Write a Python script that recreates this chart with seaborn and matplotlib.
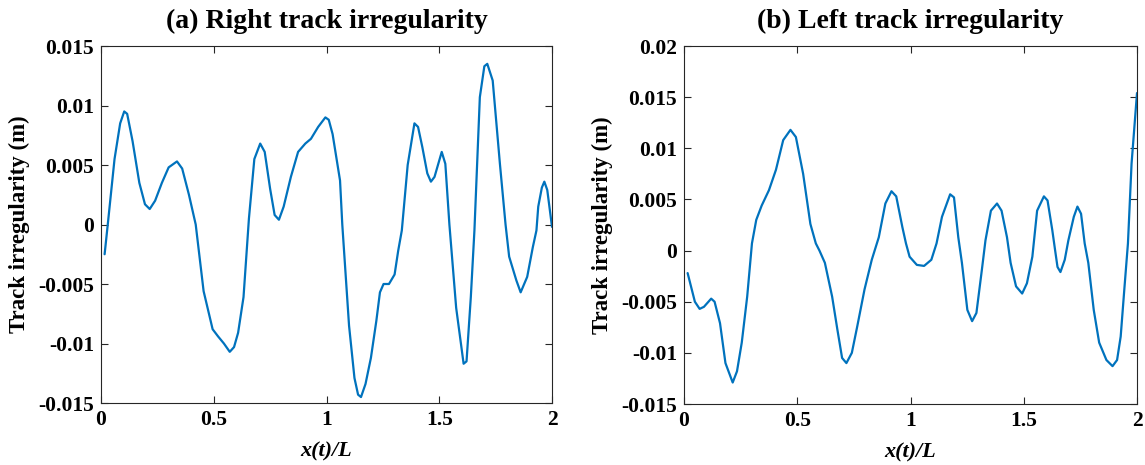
import numpy as np
import pandas as pd
import matplotlib
matplotlib.use("Agg")
import matplotlib.pyplot as plt
import seaborn as sns

# Right track irregularity profile (m) versus normalised position x(t)/L
right_x = [0.016, 0.03, 0.06, 0.085, 0.103, 0.116, 0.14, 0.17, 0.195, 0.216, 0.24, 0.27,
           0.30, 0.337, 0.36, 0.39, 0.42, 0.455, 0.495, 0.519, 0.545, 0.571, 0.59, 0.608,
           0.632, 0.656, 0.68, 0.706, 0.726, 0.75, 0.77, 0.789, 0.81, 0.842, 0.874, 0.906,
           0.931, 0.963, 0.995, 1.01, 1.027, 1.06, 1.07, 1.10, 1.124, 1.14, 1.153, 1.173,
           1.197, 1.221, 1.237, 1.253, 1.277, 1.302, 1.318, 1.334, 1.36, 1.39, 1.406, 1.425,
           1.447, 1.463, 1.479, 1.511, 1.527, 1.545, 1.575, 1.608, 1.621, 1.64, 1.656, 1.68,
           1.70, 1.713, 1.737, 1.769, 1.794, 1.81, 1.842, 1.861, 1.89, 1.915, 1.931, 1.939,
           1.955, 1.966, 1.979, 2.0]
right_y = [-0.0025, 0.0, 0.0055, 0.0085, 0.0095, 0.0093, 0.0070, 0.0035, 0.0017, 0.0013, 0.0020, 0.0035,
           0.0048, 0.0053, 0.0047, 0.0025, 0.0, -0.0056, -0.0088, -0.0094, -0.0100, -0.0107, -0.0103, -0.0091,
           -0.0061, 0.0005, 0.0055, 0.0068, 0.0061, 0.0030, 0.0008, 0.0004, 0.0015, 0.0040, 0.0061, 0.0068,
           0.0072, 0.0082, 0.0090, 0.0088, 0.0076, 0.0037, 0.0, -0.0085, -0.0129, -0.0143, -0.0145, -0.0134,
           -0.0112, -0.0081, -0.0057, -0.0050, -0.0050, -0.0042, -0.0022, -0.0005, 0.0050, 0.0085, 0.0082, 0.0065,
           0.0043, 0.0036, 0.0040, 0.0061, 0.0051, 0.0, -0.0070, -0.0117, -0.0115, -0.0061, -0.0005, 0.0107,
           0.0133, 0.0135, 0.0121, 0.0051, 0.0, -0.0027, -0.0047, -0.0057, -0.0044, -0.0019, -0.0005, 0.0015,
           0.0031, 0.0036, 0.0029, -0.0002]

# Left track irregularity profile (m) versus normalised position x(t)/L
left_x = [0.016, 0.048, 0.069, 0.088, 0.12, 0.135, 0.159, 0.183, 0.215, 0.234, 0.255, 0.279,
          0.30, 0.319, 0.343, 0.375, 0.406, 0.438, 0.47, 0.494, 0.526, 0.558, 0.582, 0.598,
          0.622, 0.654, 0.677, 0.698, 0.717, 0.741, 0.765, 0.797, 0.829, 0.86, 0.889, 0.916,
          0.937, 0.964, 0.98, 0.996, 1.028, 1.06, 1.092, 1.115, 1.139, 1.175, 1.192, 1.211,
          1.227, 1.251, 1.272, 1.291, 1.315, 1.331, 1.355, 1.382, 1.402, 1.426, 1.442, 1.466,
          1.493, 1.514, 1.538, 1.559, 1.589, 1.605, 1.626, 1.638, 1.649, 1.662, 1.681, 1.697,
          1.721, 1.737, 1.753, 1.769, 1.785, 1.809, 1.833, 1.865, 1.892, 1.912, 1.928, 1.944,
          1.96, 1.976, 2.0]
left_y = [-0.0022, -0.0050, -0.0057, -0.0055, -0.0047, -0.0050, -0.0071, -0.0110, -0.0129, -0.0118, -0.0090, -0.0045,
          0.0007, 0.0030, 0.0044, 0.0059, 0.0079, 0.0108, 0.0118, 0.0111, 0.0075, 0.0026, 0.0007, 0.0000,
          -0.0012, -0.0045, -0.0077, -0.0105, -0.0110, -0.0100, -0.0074, -0.0038, -0.0009, 0.0013, 0.0046, 0.0058,
          0.0053, 0.0023, 0.0007, -0.0006, -0.0014, -0.0015, -0.0009, 0.0007, 0.0033, 0.0055, 0.0052, 0.0013,
          -0.0012, -0.0058, -0.0069, -0.0061, -0.0019, 0.0010, 0.0039, 0.0046, 0.0039, 0.0013, -0.0012, -0.0035,
          -0.0042, -0.0032, -0.0006, 0.0039, 0.0053, 0.0049, 0.0020, 0.0001, -0.0016, -0.0021, -0.0009, 0.0010,
          0.0033, 0.0043, 0.0036, 0.0007, -0.0012, -0.0058, -0.0090, -0.0107, -0.0113, -0.0107, -0.0084, -0.0038,
          0.0007, 0.0085, 0.0154]

x_ticks = [0, 0.5, 1, 1.5, 2]
x_tick_labels = ["0", "0.5", "1", "1.5", "2"]
right_y_ticks = [-0.015, -0.01, -0.005, 0, 0.005, 0.01, 0.015]
right_y_labels = ["-0.015", "-0.01", "-0.005", "0", "0.005", "0.01", "0.015"]
left_y_ticks = [-0.015, -0.01, -0.005, 0, 0.005, 0.01, 0.015, 0.02]
left_y_labels = ["-0.015", "-0.01", "-0.005", "0", "0.005", "0.01", "0.015", "0.02"]

sns.set_theme(style="white")
plt.rcParams["font.family"] = ["Liberation Serif", "DejaVu Serif"]
plt.rcParams["font.weight"] = "bold"
plt.rcParams["text.color"] = "black"
plt.rcParams["axes.labelcolor"] = "black"

LINE = "#0072BD"

fig = plt.figure(figsize=(11.45, 4.65), dpi=100)
ax1 = fig.add_axes([101 / 1145, 62 / 465, 451 / 1145, 357 / 465])
ax2 = fig.add_axes([684 / 1145, 61 / 465, 453 / 1145, 358 / 465])

panels = [
    (ax1, right_x, right_y, right_y_ticks, right_y_labels, (-0.015, 0.015), "(a) Right track irregularity"),
    (ax2, left_x, left_y, left_y_ticks, left_y_labels, (-0.015, 0.02), "(b) Left track irregularity"),
]

for ax, xs, ys, yt, yl, ylim, title in panels:
    df = pd.DataFrame({"pos": xs, "irr": ys})
    sns.lineplot(data=df, x="pos", y="irr", ax=ax, color=LINE, linewidth=1.6,
                 sort=False, estimator=None)
    ax.set_xlim(0, 2)
    ax.set_ylim(*ylim)
    ax.set_xticks(x_ticks)
    ax.set_xticklabels(x_tick_labels, fontsize=15.5, fontweight="bold")
    ax.set_yticks(yt)
    ax.set_yticklabels(yl, fontsize=15.5, fontweight="bold")
    ax.tick_params(direction="in", length=5, width=0.8, top=True, right=True,
                   bottom=True, left=True, colors="#262626", labelcolor="black", pad=5)
    for sp in ax.spines.values():
        sp.set_visible(True)
        sp.set_color("#262626")
        sp.set_linewidth(0.8)
    ax.set_xlabel("x(t)/L", fontsize=16, fontweight="bold", style="italic",
                  labelpad=8, color="black")
    ax.set_ylabel("Track irregularity (m)", fontsize=16.5, fontweight="bold",
                  labelpad=6, color="black")
    ax.set_title(title, fontsize=20, fontweight="bold", pad=13, color="black")
    ax.grid(False)

fig.savefig("out.png", dpi=100, facecolor="white")
